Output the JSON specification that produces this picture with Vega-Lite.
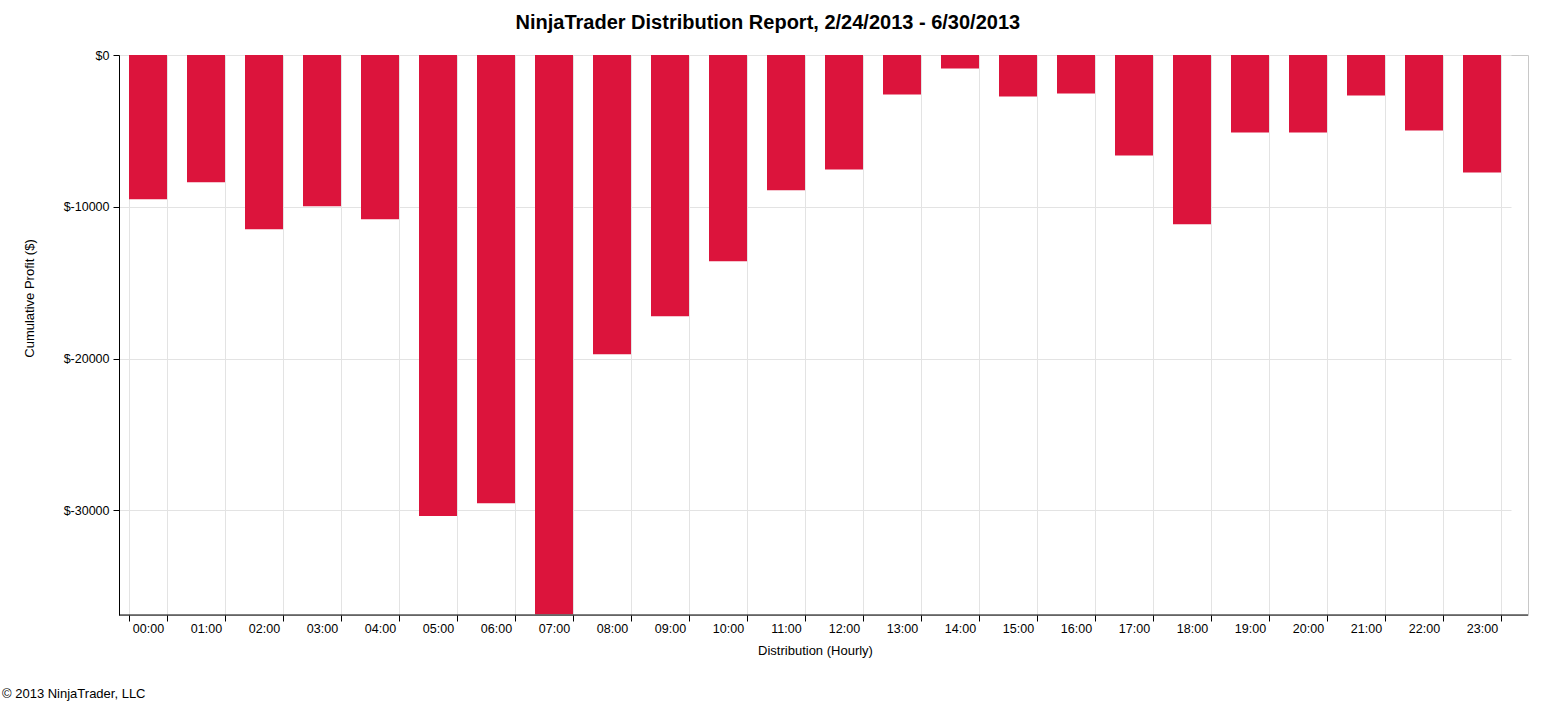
{
  "$schema": "https://vega.github.io/schema/vega-lite/v6.json",
  "background": "white",
  "padding": {"left": 2, "top": 12, "right": 13, "bottom": 2},
  "config": {
    "font": "Liberation Sans",
    "view": {"stroke": "#c8c8c8"}
  },
  "datasets": {
    "hours": [
      {"hour": "00:00", "profit": -9510},
      {"hour": "01:00", "profit": -8390},
      {"hour": "02:00", "profit": -11490},
      {"hour": "03:00", "profit": -9970},
      {"hour": "04:00", "profit": -10830},
      {"hour": "05:00", "profit": -30380},
      {"hour": "06:00", "profit": -29530},
      {"hour": "07:00", "profit": -36850},
      {"hour": "08:00", "profit": -19720},
      {"hour": "09:00", "profit": -17220},
      {"hour": "10:00", "profit": -13590},
      {"hour": "11:00", "profit": -8920},
      {"hour": "12:00", "profit": -7540},
      {"hour": "13:00", "profit": -2600},
      {"hour": "14:00", "profit": -890},
      {"hour": "15:00", "profit": -2730},
      {"hour": "16:00", "profit": -2530},
      {"hour": "17:00", "profit": -6620},
      {"hour": "18:00", "profit": -11160},
      {"hour": "19:00", "profit": -5100},
      {"hour": "20:00", "profit": -5100},
      {"hour": "21:00", "profit": -2670},
      {"hour": "22:00", "profit": -4970},
      {"hour": "23:00", "profit": -7740}
    ],
    "edge": [{"bottom": -36900}]
  },
  "spacing": 30,
  "vconcat": [
    {
      "title": {
        "text": "NinjaTrader Distribution Report, 2/24/2013 - 6/30/2013",
        "fontSize": 20,
        "fontWeight": "bold",
        "color": "black",
        "anchor": "middle",
        "frame": "bounds",
        "offset": 16.5,
        "dx": -8
      },
      "width": 1409,
      "height": 560,
      "layer": [
        {
          "data": {"name": "hours"},
          "mark": {"type": "bar", "color": "#DC143C"},
          "encoding": {
            "x": {
              "field": "hour",
              "type": "ordinal",
              "sort": null,
              "title": "Distribution (Hourly)",
              "scale": {"range": [0, 1392], "paddingInner": 0.345, "paddingOuter": 0.1725},
              "axis": {
                "tickBand": "extent",
                "domain": false,
                "grid": true,
                "gridColor": "#e3e3e3",
                "labelAngle": 0,
                "labelFontSize": 12.5,
                "labelColor": "black",
                "labelPadding": 1,
                "tickColor": "black",
                "tickSize": 6,
                "titleFontSize": 13,
                "titleFontWeight": "normal",
                "titleColor": "black",
                "titlePadding": 9.5
              }
            },
            "y": {
              "field": "profit",
              "type": "quantitative",
              "title": "Cumulative Profit ($)",
              "scale": {"domain": [-36900, 0], "nice": false},
              "axis": {
                "values": [0, -10000, -20000, -30000],
                "labelExpr": "'$' + datum.value",
                "domainColor": "black",
                "gridColor": "#e3e3e3",
                "tickColor": "black",
                "tickSize": 6,
                "labelColor": "black",
                "labelFontSize": 12.5,
                "labelPadding": 4,
                "titleFontSize": 13,
                "titleFontWeight": "normal",
                "titleColor": "black",
                "titlePadding": 27,
                "titleY": 243
              }
            },
            "y2": {"datum": 0}
          }
        },
        {
          "data": {"name": "edge"},
          "mark": {"type": "rule", "color": "black", "strokeWidth": 1},
          "encoding": {
            "y": {"field": "bottom", "type": "quantitative"}
          }
        }
      ]
    },
    {
      "width": 10,
      "height": 1,
      "view": {"stroke": null},
      "title": {
        "text": "© 2013 NinjaTrader, LLC",
        "fontSize": 13,
        "fontWeight": "normal",
        "color": "black",
        "anchor": "start",
        "frame": "bounds",
        "dx": -117,
        "offset": 0
      },
      "data": {"values": []},
      "mark": "text",
      "encoding": {}
    }
  ]
}
